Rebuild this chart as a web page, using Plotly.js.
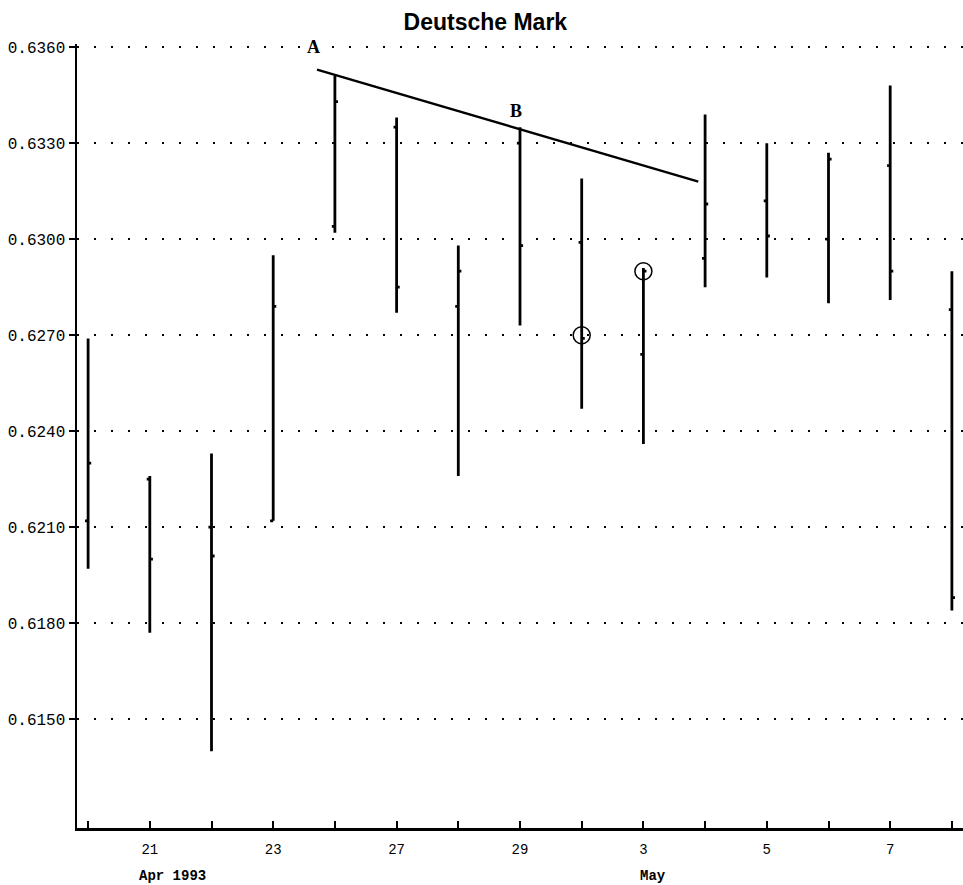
<!DOCTYPE html>
<html><head><meta charset="utf-8">
<script src="https://cdn.plot.ly/plotly-3.0.1.min.js"></script>
<style>body{margin:0;background:#fff}</style>
</head><body>
<div id="chart" style="width:963px;height:885px"></div>
<script>
// Trading days, April 20 – May 10, 1993
const dates = ["Apr 20","Apr 21","Apr 22","Apr 23","Apr 26","Apr 27","Apr 28","Apr 29","Apr 30","May 3","May 4","May 5","May 6","May 7","May 10"];
const openVals  = [0.6212,0.6225,0.6210,0.6212,0.6304,0.6335,0.6279,0.6330,0.6299,0.6264,0.6294,0.6312,0.6300,0.6323,0.6278];
const highVals  = [0.6269,0.6226,0.6233,0.6295,0.6351,0.6338,0.6298,0.6335,0.6319,0.6291,0.6339,0.6330,0.6327,0.6348,0.6290];
const lowVals   = [0.6197,0.6177,0.6140,0.6212,0.6302,0.6277,0.6226,0.6273,0.6247,0.6236,0.6285,0.6288,0.6280,0.6281,0.6184];
const closeVals = [0.6230,0.6200,0.6201,0.6279,0.6343,0.6285,0.6290,0.6298,0.6269,0.6290,0.6311,0.6301,0.6325,0.6290,0.6188];
const tickLabels = ["","21","","23","","27","","29","","3","","5","","7",""];
const yTicks = [0.6150,0.6180,0.6210,0.6240,0.6270,0.6300,0.6330,0.6360];
// circled points
const circleDates = ["Apr 30","May 3"];
const circleVals  = [0.6270,0.6290];
// trendline A-B (category serial positions)
const trendX = [3.71, 9.89];
const trendY = [0.6353, 0.6318];

const traces = [
  {type:'ohlc', x:dates, open:openVals, high:highVals, low:lowVals, close:closeVals,
   increasing:{line:{color:'#000',width:2.8}}, decreasing:{line:{color:'#000',width:2.8}},
   tickwidth:0.05, hoverinfo:'none', showlegend:false},
  {type:'scatter', mode:'markers', x:circleDates, y:circleVals,
   marker:{symbol:'circle-open', size:17, color:'#000', line:{width:1.5,color:'#000'}},
   hoverinfo:'none', showlegend:false}
];

const mono = "'Liberation Mono', 'DejaVu Sans Mono', monospace";
const layout = {
  width:963, height:885,
  margin:{l:77, r:0, t:44, b:57},
  paper_bgcolor:'#fff', plot_bgcolor:'#fff',
  showlegend:false,
  title:{text:'<b>Deutsche Mark</b>', x:0.504, xanchor:'center', y:0.975, yanchor:'middle',
         xref:'container', yref:'container',
         font:{family:"'Liberation Sans', Arial, sans-serif", size:23, color:'#000'}},
  xaxis:{type:'category', categoryorder:'array', categoryarray:dates,
         range:[-0.18, 14.18], tickvals:dates, ticktext:tickLabels,
         ticks:'inside', ticklen:7, tickwidth:2, tickcolor:'#000',
         showline:true, linewidth:2.5, linecolor:'#000', ticklabelstandoff:7,
         showgrid:false, zeroline:false, rangeslider:{visible:false},
         tickfont:{family:mono, size:14, color:'#000'}, fixedrange:true},
  yaxis:{range:[0.61160, 0.63610], tickvals:yTicks, tickformat:'.4f',
         ticks:'outside', ticklen:6, tickwidth:2, tickcolor:'#000',
         showline:true, linewidth:2.5, linecolor:'#000',
         showgrid:true, gridcolor:'#000', gridwidth:2, griddash:'2px,15px',
         zeroline:false, tickfont:{family:mono, size:16, color:'#000'}, fixedrange:true},
  shapes:[
    {type:'line', xref:'x', yref:'y', x0:trendX[0], y0:trendY[0], x1:trendX[1], y1:trendY[1],
     line:{color:'#000', width:2.4}}
  ],
  annotations:[
    {xref:'x', yref:'y', x:3.65, y:0.6360, text:'<b>A</b>', showarrow:false,
     font:{family:"'Liberation Serif', 'DejaVu Serif', serif", size:18, color:'#000'}},
    {xref:'x', yref:'y', x:6.94, y:0.6340, text:'<b>B</b>', showarrow:false,
     font:{family:"'Liberation Serif', 'DejaVu Serif', serif", size:18, color:'#000'}},
    {xref:'x', yref:'paper', x:0.80, y:-0.061, xanchor:'left', yanchor:'middle', text:'<b>Apr 1993</b>', showarrow:false,
     font:{family:mono, size:14, color:'#000'}},
    {xref:'x', yref:'paper', x:8.92, y:-0.061, xanchor:'left', yanchor:'middle', text:'<b>May</b>', showarrow:false,
     font:{family:mono, size:14, color:'#000'}}
  ]
};
Plotly.newPlot('chart', traces, layout, {displayModeBar:false, staticPlot:true});
</script>
</body></html>
